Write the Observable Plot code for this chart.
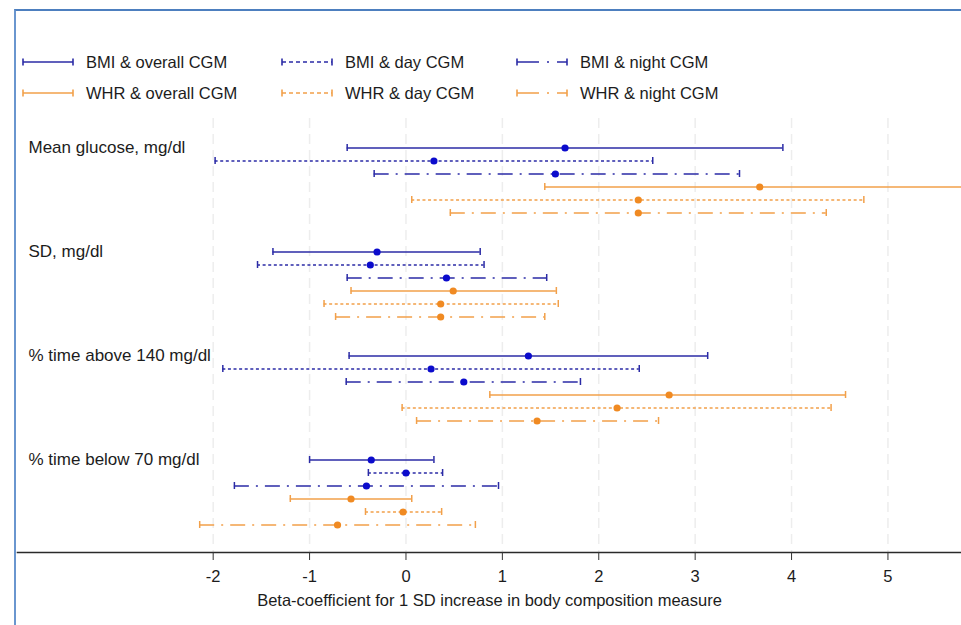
<!DOCTYPE html>
<html>
<head>
<meta charset="utf-8">
<script src="https://cdn.jsdelivr.net/npm/d3@7"></script>
<script src="https://cdn.jsdelivr.net/npm/@observablehq/plot@0.6"></script>
<style>
  html, body { margin: 0; padding: 0; background: #fff; }
  #wrap { position: relative; width: 961px; height: 625px; overflow: hidden; font-family: "Liberation Sans", Arial, sans-serif; }
  #border { position: absolute; left: 14px; top: 9px; width: 960px; height: 640px; border-top: 2.5px solid #4d7fbf; border-left: 2.5px solid #6a96cf; box-sizing: border-box; }
  #chart { position: absolute; left: 0; top: 110px; }
  .leg { position: absolute; display: flex; align-items: center; font-size: 16.5px; color: #1c1c1c; white-space: nowrap; }
  .leg svg { margin-right: 12px; }
</style>
</head>
<body>
<div id="wrap">
  <div id="border"></div>
  <div id="legend"></div>
  <div id="chart"></div>
</div>
<script>
// ---- data ----
const outcomes = ["Mean glucose, mg/dl", "SD, mg/dl", "% time above 140 mg/dl", "% time below 70 mg/dl"];
const series = ["BMI & overall CGM", "BMI & day CGM", "BMI & night CGM", "WHR & overall CGM", "WHR & day CGM", "WHR & night CGM"];

const estMean = [1.65, 0.29, 1.55, 3.67, 2.41, 2.41];
const loMean  = [-0.61, -1.98, -0.33, 1.44, 0.06, 0.46];
const hiMean  = [3.91, 2.56, 3.46, 5.90, 4.75, 4.36];

const estSD = [-0.30, -0.37, 0.42, 0.49, 0.36, 0.36];
const loSD  = [-1.38, -1.54, -0.61, -0.57, -0.85, -0.73];
const hiSD  = [0.77, 0.81, 1.46, 1.56, 1.58, 1.44];

const estAbove = [1.27, 0.26, 0.60, 2.73, 2.19, 1.36];
const loAbove  = [-0.59, -1.90, -0.62, 0.87, -0.04, 0.11];
const hiAbove  = [3.13, 2.42, 1.81, 4.56, 4.41, 2.62];

const estBelow = [-0.36, 0.00, -0.41, -0.57, -0.03, -0.71];
const loBelow  = [-1.00, -0.39, -1.78, -1.20, -0.42, -2.14];
const hiBelow  = [0.29, 0.38, 0.96, 0.06, 0.37, 0.72];

const xTicks = [-2, -1, 0, 1, 2, 3, 4, 5];
const xTickLabels = ["-2", "-1", "0", "1", "2", "3", "4", "5"];
const xLabel = "Beta-coefficient for 1 SD increase in body composition measure";

// ---- styles ----
const lineColor = {BMI: "#2b2ba6", WHR: "#f2a04a"};
const dotColor = {BMI: "#0b0bcc", WHR: "#f08a22"};
const dashFor = {overall: null, day: "3,2.6", night: "15,7,2,7"};

const est = [estMean, estSD, estAbove, estBelow];
const lo = [loMean, loSD, loAbove, loBelow];
const hi = [hiMean, hiSD, hiAbove, hiBelow];

const rows = [];
outcomes.forEach((o, i) => series.forEach((s, j) => rows.push({
  outcome: o, series: s, key: o + "|" + s,
  est: est[i][j], lo: lo[i][j], hi: hi[i][j],
  group: s.startsWith("BMI") ? "BMI" : "WHR",
  period: s.includes("overall") ? "overall" : s.includes("day") ? "day" : "night"
})));

const yDomain = [];
outcomes.forEach(o => { series.forEach(s => yDomain.push(o + "|" + s)); yDomain.push(o + "|gap1", o + "|gap2"); });

const marks = [
  Plot.gridX(xTicks, {stroke: "#ededed", strokeOpacity: 1, strokeWidth: 1.5, strokeDasharray: "10,6"}),
  Plot.frame({anchor: "bottom", stroke: "#2a2a2a", strokeWidth: 1.6})
];
series.forEach(s => {
  const d = rows.filter(r => r.series === s);
  const g = d[0].group, p = d[0].period;
  const common = {y: "key", stroke: lineColor[g], strokeWidth: 1.5, clip: true};
  marks.push(Plot.ruleY(d, {...common, x1: "lo", x2: "hi", strokeDasharray: dashFor[p] || undefined}));
  marks.push(Plot.tickX(d, {...common, x: "lo", insetTop: 3, insetBottom: 3}));
  marks.push(Plot.tickX(d, {...common, x: "hi", insetTop: 3, insetBottom: 3}));
  marks.push(Plot.dot(d, {x: "est", y: "key", r: 3.6, fill: dotColor[g], stroke: "none", clip: true}));
});
marks.push(Plot.text(outcomes, {text: d => d, y: d => d + "|" + series[0], frameAnchor: "left", dx: 11, textAnchor: "start", fontSize: 17, fill: "#1c1c1c"}));
marks.push(Plot.axisX(xTicks, {tickSize: 8, tickPadding: 10, fontSize: 16.5, stroke: "#333", fill: "#1c1c1c",
  tickFormat: d => xTickLabels[xTicks.indexOf(d)],
  label: xLabel, labelAnchor: "center", labelArrow: "none", labelOffset: 53}));

const chart = Plot.plot({
  width: 961,
  height: 515,
  marginLeft: 17,
  marginRight: 0,
  marginTop: 8,
  marginBottom: 73,
  style: {fontFamily: "'Liberation Sans', Arial, sans-serif", fontSize: "16.5px", color: "#1c1c1c", background: "transparent", overflow: "visible"},
  x: {domain: [-4.03, 5.763]},
  y: {type: "band", domain: yDomain, range: [30.5, 446.5], padding: 0, axis: null},
  marks
});
document.getElementById("chart").appendChild(chart);

// ---- legend (HTML) ----
const legPos = [[22, 62], [281, 62], [516, 62], [22, 93], [281, 93], [516, 93]];
const legend = document.getElementById("legend");
series.forEach((s, j) => {
  const g = s.startsWith("BMI") ? "BMI" : "WHR";
  const p = s.includes("overall") ? "overall" : s.includes("day") ? "day" : "night";
  const div = document.createElement("div");
  div.className = "leg";
  div.style.left = legPos[j][0] + "px";
  div.style.top = (legPos[j][1] - 11) + "px";
  div.style.height = "22px";
  const dash = dashFor[p] ? `stroke-dasharray="${p === "night" ? "22,8,2,8" : "4,3"}"` : "";
  div.innerHTML = `<svg width="52" height="22"><line x1="1" x2="51" y1="11" y2="11" stroke="${lineColor[g]}" stroke-width="1.6" ${dash}/>` +
    `<line x1="1" x2="1" y1="7.5" y2="14.5" stroke="${lineColor[g]}" stroke-width="1.6"/><line x1="51" x2="51" y1="7.5" y2="14.5" stroke="${lineColor[g]}" stroke-width="1.6"/></svg><span>${s}</span>`;
  legend.appendChild(div);
});
</script>
</body>
</html>
